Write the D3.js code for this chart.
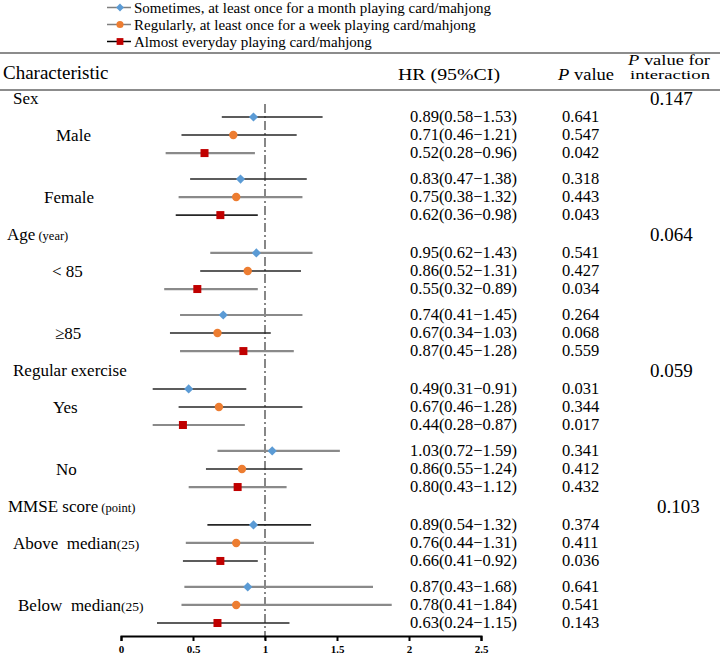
<!DOCTYPE html>
<html>
<head>
<meta charset="utf-8">
<script src="https://cdn.jsdelivr.net/npm/d3@7"></script>
<style>
  html, body { margin: 0; padding: 0; background: #fff; }
  svg { display: block; }
</style>
</head>
<body>
<svg id="chart" width="720" height="657"></svg>
<script>
// ---------------- data ----------------
const seriesNames = [
  "Sometimes, at least once for a month playing card/mahjong",
  "Regularly, at least once for a week playing card/mahjong",
  "Almost everyday playing card/mahjong"
];
const groupLabels = ["Sex", "Age", "Regular exercise", "MMSE score"];
const groupNotes = ["", "(year)", "", "(point)"];
const interactionP = ["0.147", "0.064", "0.059", "0.103"];
const subgroupLabels = ["Male", "Female", "< 85", "\u226585", "Yes", "No", "Above\u00a0 median", "Below\u00a0 median"];
const subgroupNotes = ["", "", "", "", "", "", "(25)", "(25)"];

// plotted point estimates
const hrPoint = [
  [0.92, 0.78, 0.58], [0.83, 0.80, 0.69],
  [0.94, 0.88, 0.53], [0.71, 0.67, 0.85],
  [0.47, 0.68, 0.43], [1.05, 0.84, 0.81],
  [0.92, 0.80, 0.69], [0.88, 0.80, 0.67]
];
const ciLow = [
  [0.70, 0.42, 0.31], [0.48, 0.40, 0.38],
  [0.62, 0.55, 0.30], [0.41, 0.34, 0.41],
  [0.22, 0.40, 0.22], [0.67, 0.59, 0.47],
  [0.60, 0.45, 0.43], [0.44, 0.42, 0.25]
];
const ciHigh = [
  [1.40, 1.22, 0.93], [1.29, 1.26, 0.95],
  [1.33, 1.25, 0.95], [1.26, 1.04, 1.20],
  [0.87, 1.26, 0.86], [1.52, 1.26, 1.15],
  [1.32, 1.34, 0.95], [1.75, 1.88, 1.17]
];
const hrText = [
  ["0.89(0.58\u22121.53)", "0.71(0.46\u22121.21)", "0.52(0.28\u22120.96)"],
  ["0.83(0.47\u22121.38)", "0.75(0.38\u22121.32)", "0.62(0.36\u22120.98)"],
  ["0.95(0.62\u22121.43)", "0.86(0.52\u22121.31)", "0.55(0.32\u22120.89)"],
  ["0.74(0.41\u22121.45)", "0.67(0.34\u22121.03)", "0.87(0.45\u22121.28)"],
  ["0.49(0.31\u22120.91)", "0.67(0.46\u22121.28)", "0.44(0.28\u22120.87)"],
  ["1.03(0.72\u22121.59)", "0.86(0.55\u22121.24)", "0.80(0.43\u22121.12)"],
  ["0.89(0.54\u22121.32)", "0.76(0.44\u22121.31)", "0.66(0.41\u22120.92)"],
  ["0.87(0.43\u22121.68)", "0.78(0.41\u22121.84)", "0.63(0.24\u22121.15)"]
];
const pText = [
  ["0.641", "0.547", "0.042"], ["0.318", "0.443", "0.043"],
  ["0.541", "0.427", "0.034"], ["0.264", "0.068", "0.559"],
  ["0.031", "0.344", "0.017"], ["0.341", "0.412", "0.432"],
  ["0.374", "0.411", "0.036"], ["0.641", "0.541", "0.143"]
];
const xTicks = [0, 0.5, 1, 1.5, 2, 2.5];
const xTickLabels = ["0", "0.5", "1", "1.5", "2", "2.5"];

// ---------------- styles ----------------
const FONT = "'Liberation Serif', Tinos, 'Times New Roman', 'DejaVu Serif', serif";
const seriesColor = ["#5b9bd5", "#ed7d31", "#c00000"];
const legendLineColor = ["#7f7f7f", "#7f7f7f", "#000000"];
const ciTone = [
  ["d", "d", "g"], ["d", "g", "d"],
  ["g", "d", "g"], ["g", "d", "g"],
  ["d", "d", "g"], ["g", "d", "g"],
  ["d", "g", "d"], ["g", "g", "d"]
];
const toneColor = { d: "#262626", g: "#8a8a8a" };
const toneWidth = { d: 1.6, g: 2.2 };

// ---------------- drawing ----------------
const svg = d3.select("#chart");
svg.append("rect").attr("width", 720).attr("height", 657).attr("fill", "#fff");

const x = d3.scaleLinear().domain([0, 2.5]).range([121, 481]);

const subGap = 0.44, groupGap = 1.1;
function slotOf(g, s, k) {
  const r = (g * 2 + s) * 3 + k;
  return r + subGap * (g + s) + groupGap * g;
}
const lastSlot = slotOf(3, 1, 2);
const y = d3.scaleLinear().domain([0, lastSlot]).range([117, 623]);

function txt(sel, xx, yy, size, s) {
  return sel.append("text").attr("x", xx).attr("y", yy)
    .attr("font-family", FONT).style("font-family", FONT)
    .style("font-size", size + "px").attr("fill", "#000").text(s);
}

// legend
const legend = svg.append("g");
seriesNames.forEach((name, k) => {
  const ly = 7.5 + k * 17;
  legend.append("line").attr("x1", 107).attr("x2", 131).attr("y1", ly).attr("y2", ly)
    .attr("stroke", legendLineColor[k]).attr("stroke-width", 1.5);
  drawMarker(legend, k, 120, ly, 0.85);
  txt(legend, 134, ly, 15, name).attr("dy", "0.35em");
});

// header rules
svg.append("line").attr("x1", 0).attr("x2", 720).attr("y1", 53).attr("y2", 53)
  .attr("stroke", "#8c8c8c").attr("stroke-width", 1.8);
svg.append("line").attr("x1", 0).attr("x2", 720).attr("y1", 90).attr("y2", 90)
  .attr("stroke", "#8c8c8c").attr("stroke-width", 1.8);

// header text
txt(svg, 3, 79, 19, "Characteristic");
txt(svg, 398, 80, 16.5, "HR (95%CI)").attr("textLength", 102).attr("lengthAdjust", "spacingAndGlyphs");
const pv = txt(svg, 558, 80, 16.5, "").attr("textLength", 56).attr("lengthAdjust", "spacingAndGlyphs");
pv.append("tspan").style("font-style", "italic").text("P");
pv.append("tspan").text(" value");
const pvi = txt(svg, 628, 65, 14, "").attr("textLength", 82).attr("lengthAdjust", "spacingAndGlyphs");
pvi.append("tspan").style("font-style", "italic").text("P");
pvi.append("tspan").text(" value for");
txt(svg, 630, 79, 13, "interaction").attr("textLength", 80).attr("lengthAdjust", "spacingAndGlyphs");

// reference line at HR = 1
svg.append("line").attr("x1", x(1)).attr("x2", x(1)).attr("y1", 104).attr("y2", 641)
  .attr("stroke", "#7a7a7a").attr("stroke-width", 1.8)
  .attr("stroke-dasharray", "9,3,2,3");

// group rows
const groupLabelX = [13, 7, 13, 8];
const subLabelX = [56, 44, 52, 55, 53, 56, 13, 18];
groupLabels.forEach((lab, g) => {
  const gy = y(slotOf(g, 0, 0) - 1.05);
  const t = txt(svg, groupLabelX[g], gy, 17, lab).attr("dy", "0.35em");
  if (groupNotes[g]) t.append("tspan").style("font-size", "12.5px").text(" " + groupNotes[g]);
  txt(svg, g === 3 ? 657 : 650, gy, 19, interactionP[g]).attr("dy", "0.35em");
});

subgroupLabels.forEach((lab, i) => {
  const g = Math.floor(i / 2), s = i % 2;
  const sy = y(slotOf(g, s, 1));
  const t = txt(svg, subLabelX[i], sy, 17, lab).attr("dy", "0.35em");
  if (subgroupNotes[i]) t.append("tspan").style("font-size", "13.5px").text(subgroupNotes[i]);
});

// CI lines, markers and texts
hrPoint.forEach((row, i) => {
  const g = Math.floor(i / 2), s = i % 2;
  row.forEach((v, k) => {
    const ry = y(slotOf(g, s, k));
    const tone = ciTone[i][k];
    svg.append("line").attr("x1", x(ciLow[i][k])).attr("x2", x(ciHigh[i][k]))
      .attr("y1", ry).attr("y2", ry)
      .attr("stroke", toneColor[tone]).attr("stroke-width", toneWidth[tone]);
    drawMarker(svg, k, x(v), ry, 1);
    txt(svg, 410, ry - 1, 16.5, hrText[i][k]).attr("dy", "0.35em");
    txt(svg, 562, ry - 1, 16.5, pText[i][k]).attr("dy", "0.35em");
  });
});

// x axis
const axis = d3.axisBottom(x).tickValues(xTicks).tickFormat((d, i) => xTickLabels[i])
  .tickSize(5).tickSizeOuter(5);
const ax = svg.append("g").attr("transform", "translate(0,636)").call(axis);
ax.attr("font-family", FONT);
ax.select(".domain").attr("stroke", "#000").attr("stroke-width", 2);
ax.selectAll(".tick line").attr("stroke", "#000").attr("stroke-width", 2);
ax.selectAll(".tick text").attr("y", 9)
  .attr("font-family", FONT).style("font-family", FONT).style("font-weight", "bold")
  .style("font-size", "11px").attr("fill", "#000");

function drawMarker(sel, k, cx, cy, sc) {
  if (k === 0) {
    const r = 4.6 * sc;
    sel.append("path")
      .attr("d", `M${cx},${cy - r}L${cx + r},${cy}L${cx},${cy + r}L${cx - r},${cy}Z`)
      .attr("fill", seriesColor[0]);
  } else if (k === 1) {
    sel.append("circle").attr("cx", cx).attr("cy", cy).attr("r", 4.2 * sc)
      .attr("fill", seriesColor[1]);
  } else {
    const h = 4 * sc;
    sel.append("rect").attr("x", cx - h).attr("y", cy - h).attr("width", 2 * h).attr("height", 2 * h)
      .attr("fill", seriesColor[2]);
  }
}
</script>
</body>
</html>
